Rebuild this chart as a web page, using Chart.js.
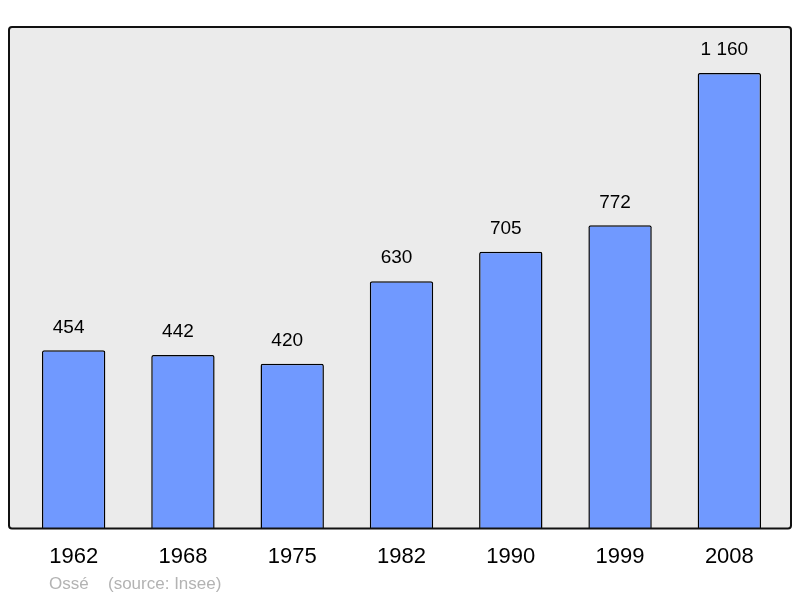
<!DOCTYPE html>
<html>
<head>
<meta charset="utf-8">
<script src="https://cdn.jsdelivr.net/npm/chart.js@4"></script>
<style>
  html, body { margin: 0; padding: 0; background: #fff; }
  #wrap { width: 800px; height: 598px; }
</style>
</head>
<body>
<div id="wrap"><canvas id="myChart" width="800" height="598"></canvas></div>
<script>
var ctx = document.getElementById('myChart').getContext('2d');

// données
var years = ["1962", "1968", "1975", "1982", "1990", "1999", "2008"];
var population = [454, 442, 420, 630, 705, 772, 1160];
var commune = "Ossé";
var source = "(source: Insee)";

// fond gris et cadre
var framePlugin = {
    id: 'frame',
    beforeDraw: function (chart) {
        var c = chart.ctx;
        var a = chart.chartArea;
        c.save();
        c.beginPath();
        c.roundRect(9, a.top, 782, a.bottom - a.top, 3);
        c.fillStyle = '#ebebeb';
        c.fill();
        c.restore();
    },
    afterDraw: function (chart) {
        var c = chart.ctx;
        var a = chart.chartArea;
        c.save();
        c.beginPath();
        c.roundRect(9, a.top, 782, a.bottom - a.top, 3);
        c.lineWidth = 2;
        c.strokeStyle = '#111';
        c.stroke();
        // valeurs au-dessus des barres (un peu décalées à gauche comme l'original)
        var meta = chart.getDatasetMeta(0);
        c.fillStyle = '#000';
        c.font = '19px "Liberation Sans", Arial, sans-serif';
        c.textAlign = 'center';
        c.textBaseline = 'middle';
        meta.data.forEach(function (bar, i) {
            var txt = population[i].toString().replace(/\B(?=(\d{3})+(?!\d))/g, ' ');
            c.fillText(txt, bar.x - 5, bar.y - 23);
        });
        // source
        c.fillStyle = '#b3b3b3';
        c.font = '17px "Liberation Sans", Arial, sans-serif';
        c.textAlign = 'left';
        c.fillText(commune, 49, 584);
        c.fillText(source, 108, 584);
        c.restore();
    }
};

var chart = new Chart(ctx, {
    type: 'bar',
    data: {
        labels: years,
        datasets: [{
            data: population,
            backgroundColor: '#7099ff',
            borderColor: '#000',
            borderWidth: 1.5,
            borderRadius: { topLeft: 2, topRight: 2 },
            borderSkipped: 'bottom',
            barPercentage: 0.58,
            categoryPercentage: 1
        }]
    },
    options: {
        responsive: false,
        animation: false,
        layout: { padding: { left: 19, right: 16, top: 27, bottom: 21 } },
        plugins: {
            legend: { display: false },
            tooltip: { enabled: false }
        },
        scales: {
            x: {
                grid: { display: false },
                border: { display: false },
                ticks: {
                    color: '#000',
                    padding: 7,
                    font: { size: 22, family: '"Liberation Sans", Arial, sans-serif' }
                }
            },
            y: {
                display: false,
                min: 0,
                max: 1277
            }
        }
    },
    plugins: [framePlugin]
});
</script>
</body>
</html>
